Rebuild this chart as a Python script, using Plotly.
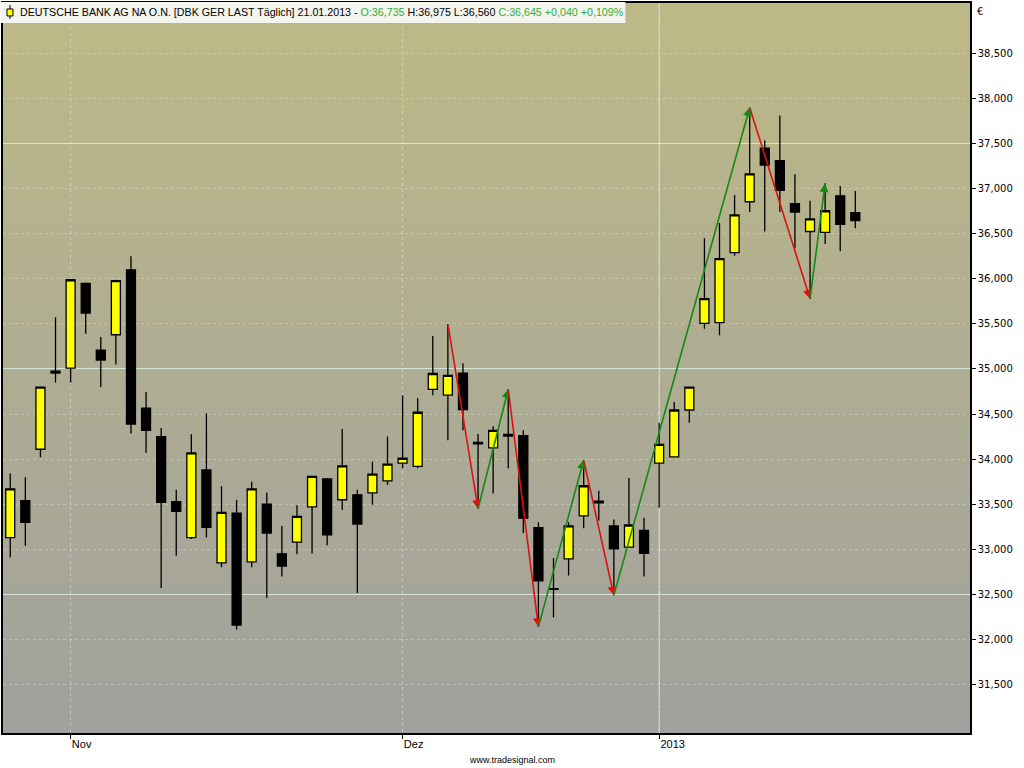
import plotly.graph_objects as go

# ---------------- data ----------------
dates = [
    "2012-10-26", "2012-10-29", "2012-10-30", "2012-10-31",
    "2012-11-01", "2012-11-02", "2012-11-05", "2012-11-06", "2012-11-07", "2012-11-08", "2012-11-09",
    "2012-11-12", "2012-11-13", "2012-11-14", "2012-11-15", "2012-11-16",
    "2012-11-19", "2012-11-20", "2012-11-21", "2012-11-22", "2012-11-23",
    "2012-11-26", "2012-11-27", "2012-11-28", "2012-11-29", "2012-11-30",
    "2012-12-03", "2012-12-04", "2012-12-05", "2012-12-06", "2012-12-07",
    "2012-12-10", "2012-12-11", "2012-12-12", "2012-12-13", "2012-12-14",
    "2012-12-17", "2012-12-18", "2012-12-19", "2012-12-20", "2012-12-21",
    "2012-12-27", "2012-12-28",
    "2013-01-02", "2013-01-03", "2013-01-04",
    "2013-01-07", "2013-01-08", "2013-01-09", "2013-01-10", "2013-01-11",
    "2013-01-14", "2013-01-15", "2013-01-16", "2013-01-17", "2013-01-18",
    "2013-01-21",
]

opens = [33.130, 33.540, 34.110, 34.955, 35.010, 35.950, 35.210, 35.380, 36.100, 34.565,
         34.250, 33.530, 33.130, 33.880, 32.850, 33.400, 32.860, 33.500, 32.950, 33.080,
         33.470, 33.780, 33.550, 33.605, 33.625, 33.760, 33.955, 33.920, 34.775, 34.710,
         34.955, 34.185, 34.125, 34.255, 34.260, 33.240, 32.565, 32.895, 33.370, 33.515,
         33.260, 33.025, 33.210, 33.955, 34.025, 34.545, 35.505, 35.515, 36.290, 36.855,
         37.450, 37.310, 36.835, 36.525, 36.515, 36.920, 36.735]
highs = [33.840, 33.800, 34.800, 35.575, 35.990, 35.960, 35.355, 35.980, 36.250, 34.745,
         34.345, 33.660, 34.275, 34.510, 33.700, 33.550, 33.750, 33.630, 33.260, 33.490,
         33.810, 33.790, 34.335, 33.660, 33.970, 34.250, 34.710, 34.675, 35.365, 35.500,
         35.065, 34.280, 34.365, 34.775, 34.320, 33.300, 32.905, 33.300, 33.990, 33.650,
         33.330, 33.790, 33.350, 34.405, 34.635, 34.805, 36.450, 36.620, 36.930, 37.900,
         37.535, 37.810, 37.160, 36.865, 37.060, 37.030, 36.975]
lows = [32.910, 33.040, 34.020, 34.850, 34.850, 35.390, 34.800, 35.050, 34.285, 34.070,
        32.570, 32.930, 33.115, 33.130, 32.800, 32.110, 32.800, 32.460, 32.700, 32.945,
        32.955, 33.045, 33.435, 32.515, 33.495, 33.715, 33.900, 33.900, 34.710, 34.210,
        34.320, 33.450, 33.620, 33.900, 33.180, 32.140, 32.245, 32.710, 33.235, 33.320,
        32.490, 33.020, 32.700, 33.460, 34.020, 34.405, 35.445, 35.375, 36.255, 36.740,
        36.525, 36.740, 36.340, 35.780, 36.385, 36.305, 36.560]
closes = [33.670, 33.300, 34.800, 34.975, 35.990, 35.620, 35.100, 35.980, 34.390, 34.320,
          33.520, 33.420, 34.070, 33.245, 33.410, 32.160, 33.670, 33.180, 32.815, 33.365,
          33.810, 33.160, 33.925, 33.280, 33.835, 33.945, 34.010, 34.520, 34.950, 34.930,
          34.550, 34.170, 34.320, 34.275, 33.345, 32.650, 32.555, 33.260, 33.705, 33.535,
          33.005, 33.270, 32.955, 34.165, 34.545, 34.800, 35.780, 36.225, 36.710, 37.165,
          37.260, 36.980, 36.740, 36.665, 36.755, 36.605, 36.645]

# zigzag swing points: (date, "H" = high / "L" = low)
swings = [("2012-12-06", "H"), ("2012-12-10", "L"), ("2012-12-12", "H"), ("2012-12-14", "L"),
          ("2012-12-19", "H"), ("2012-12-21", "L"), ("2013-01-10", "H"), ("2013-01-16", "L"),
          ("2013-01-17", "H")]

x_tick_dates = ["2012-11-01", "2012-12-03", "2013-01-02"]
x_tick_text = ["Nov", "Dez", "2013"]
y_ticks = [31.5, 32.0, 32.5, 33.0, 33.5, 34.0, 34.5, 35.0, 35.5, 36.0, 36.5, 37.0, 37.5, 38.0, 38.5]
y_major = [32.5, 35.0, 37.5]

header_main = "DEUTSCHE BANK AG NA O.N. [DBK GER LAST Täglich] 21.01.2013 - "
header_o = "O:36,735"
header_hl = " H:36,975 L:36,560 "
header_c = "C:36,645 +0,040 +0,109%"

# ---------------- layout geometry ----------------
W, H = 1024, 768
ML, MR, MT, MB = 2, 54, 1, 35
PW, PH = W - ML - MR, H - MT - MB


def px_x(px):
    return (px - ML) / PW


def px_y(py):
    return (H - MB - py) / PH


fig = go.Figure()
fig.add_trace(go.Candlestick(
    x=dates, open=opens, high=highs, low=lows, close=closes,
    increasing=dict(fillcolor="#ffff00", line=dict(color="#000000", width=1.3)),
    decreasing=dict(fillcolor="#000000", line=dict(color="#000000", width=1.3)),
    whiskerwidth=0, showlegend=False, hoverinfo="skip",
))

# helper invisible trace on overlay axis for major gridlines
fig.add_trace(go.Scatter(x=[dates[0]], y=[y_major[0]], yaxis="y2", mode="markers",
                         marker=dict(opacity=0), showlegend=False, hoverinfo="skip"))

# background gradient (overlapping bands, drawn top to bottom)
shapes = []
top_c = (189, 185, 135)
bot_c = (161, 161, 158)
N = 60
for i in range(N):
    t = i / (N - 1)
    c = tuple(int(round(top_c[k] + (bot_c[k] - top_c[k]) * t)) for k in range(3))
    shapes.append(dict(type="rect", xref="paper", yref="paper", x0=0, x1=1,
                       y0=max(0.0, 1 - (i + 1) / N), y1=min(1.0, 1 - i / N + 0.004),
                       fillcolor="rgb(%d,%d,%d)" % c, line=dict(width=0), layer="below"))

# solid vertical line at year change
shapes.append(dict(type="line", xref="x", yref="paper", x0=dates.index("2013-01-02"),
                   x1=dates.index("2013-01-02"), y0=0, y1=1,
                   line=dict(color="rgba(214,228,214,0.9)", width=1), layer="below"))

# header box and icon
shapes.append(dict(type="rect", xref="paper", yref="paper", x0=px_x(0), x1=px_x(625),
                   y0=px_y(21), y1=px_y(0), fillcolor="#f5f5ef", line=dict(width=0), layer="above"))
shapes.append(dict(type="line", xref="paper", yref="paper", x0=px_x(9), x1=px_x(9),
                   y0=px_y(17), y1=px_y(3), line=dict(color="#000000", width=1), layer="above"))
shapes.append(dict(type="rect", xref="paper", yref="paper", x0=px_x(6), x1=px_x(12),
                   y0=px_y(14), y1=px_y(7), fillcolor="#ffff00",
                   line=dict(color="#000000", width=1), layer="above"))

annotations = []
# zigzag arrows
for (d0, k0), (d1, k1) in zip(swings[:-1], swings[1:]):
    i0, i1 = dates.index(d0), dates.index(d1)
    y0 = highs[i0] if k0 == "H" else lows[i0]
    y1 = highs[i1] if k1 == "H" else lows[i1]
    col = "#e01010" if y1 < y0 else "#138a13"
    annotations.append(dict(x=i1, y=y1, ax=i0, ay=y0, xref="x", yref="y", axref="x", ayref="y",
                            text="", showarrow=True, arrowhead=2, arrowsize=1.1, arrowwidth=1.6,
                            arrowcolor=col, standoff=0, startstandoff=0))

annotations.append(dict(
    x=px_x(17), y=px_y(10.5), xref="paper", yref="paper", xanchor="left", yanchor="middle",
    showarrow=False,
    text=(header_main + "<span style='color:#2fae2f'>" + header_o + "</span>" + header_hl +
          "<span style='color:#2fae2f'>" + header_c + "</span>"),
    font=dict(family="Liberation Sans, Arial, sans-serif", size=10.7, color="#000000"),
))
annotations.append(dict(x=px_x(975), y=px_y(10), xref="paper", yref="paper", xanchor="left",
                        yanchor="middle", showarrow=False, text="€",
                        font=dict(family="DejaVu Sans", size=10, color="#000000")))
annotations.append(dict(x=px_x(512), y=px_y(760), xref="paper", yref="paper", xanchor="center",
                        yanchor="middle", showarrow=False, text="www.tradesignal.com",
                        font=dict(family="Liberation Sans, Arial, sans-serif", size=9, color="#000000")))

fig.update_layout(
    width=W, height=H,
    margin=dict(l=ML, r=MR, t=MT, b=MB, pad=0),
    paper_bgcolor="#ffffff", plot_bgcolor="rgba(0,0,0,0)",
    separators=",.",
    boxgap=0.15,
    shapes=shapes, annotations=annotations,
    showlegend=False,
    xaxis=dict(
        type="category", range=[-0.48, 63.6], rangeslider=dict(visible=False),
        tickmode="array", tickvals=x_tick_dates, ticktext=x_tick_text,
        ticks="outside", ticklen=4, tickcolor="#000000", ticklabelposition="outside right",
        tickfont=dict(family="Liberation Sans, Arial, sans-serif", size=11, color="#000000"),
        showgrid=True, gridcolor="rgba(225,230,215,0.55)", griddash="dot", gridwidth=1,
        showline=True, linecolor="#000000", linewidth=1.5, mirror=True, zeroline=False,
        fixedrange=True,
    ),
    yaxis=dict(
        side="right", range=[30.963, 39.059], tickmode="array", tickvals=y_ticks,
        tickformat=".3f", ticks="outside", ticklen=4, tickcolor="#000000",
        tickfont=dict(family="DejaVu Sans", size=10, color="#000000"),
        showgrid=True, gridcolor="rgba(225,230,215,0.4)", griddash="dot", gridwidth=1,
        showline=True, linecolor="#000000", linewidth=1.5, mirror=True, zeroline=False,
        fixedrange=True,
    ),
    yaxis2=dict(
        overlaying="y", side="right", range=[30.963, 39.059], tickmode="array",
        tickvals=y_major, showticklabels=False, ticks="",
        showgrid=True, gridcolor="rgba(212,232,218,0.95)", gridwidth=1, zeroline=False,
        showline=False, fixedrange=True,
    ),
)

fig.write_html("out.html", config={"displayModeBar": False},
               post_script="document.body.style.margin='0';document.body.style.padding='0';")
